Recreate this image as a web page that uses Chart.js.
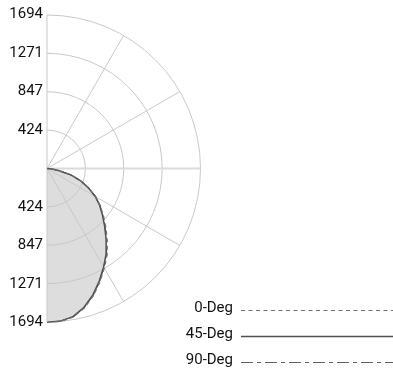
<!DOCTYPE html>
<html>
<head>
<meta charset="utf-8">
<script src="https://cdn.jsdelivr.net/npm/chart.js@4.4.1/dist/chart.umd.min.js"></script>
<style>
  html, body { margin: 0; padding: 0; background: #fff; font-family: Roboto, sans-serif; }
  #wrap { position: relative; width: 393px; height: 369px; }
</style>
</head>
<body>
<div id="wrap"><canvas id="c"></canvas></div>
<script>
// Angles measured from nadir (straight down), degrees
const angles = [0, 5, 10, 15, 20, 25, 30, 35, 40, 45, 50, 55, 60, 65, 70, 75, 80, 85, 90];
// Candela values per plane
const deg0  = [1694, 1688, 1660, 1590, 1492, 1380, 1265, 1158, 1035, 920, 815, 720, 622, 510, 398, 278, 132, 56, 0];
const deg45 = [1694, 1685, 1655, 1580, 1480, 1365, 1250, 1140, 1015, 900, 800, 710, 615, 505, 395, 272, 128, 52, 0];
const deg90 = [1694, 1686, 1658, 1585, 1486, 1372, 1256, 1146, 1022, 906, 805, 714, 618, 507, 396, 275, 130, 54, 0];
const seriesNames = ['0-Deg', '45-Deg', '90-Deg'];
const ringValues = [424, 847, 1271, 1694];
const tickValues = [-1694, -1271, -847, -424, 424, 847, 1271, 1694];
const tickLabels = ['1694', '1271', '847', '424', '424', '847', '1271', '1694'];
const spokeAngles = [0, 30, 60, 90, 120, 150, 180];
const maxValue = 1694;
const filledSeries = 1;

function toXY(vals) {
  return vals.map((v, i) => {
    const t = angles[i] * Math.PI / 180;
    return { x: v * Math.sin(t), y: -v * Math.cos(t) };
  });
}

const FONT = 'Roboto';

const gridPlugin = {
  id: 'polarGrid',
  beforeDatasetsDraw(chart) {
    const xs = chart.scales.x, ys = chart.scales.y, ctx = chart.ctx;
    const cx = xs.getPixelForValue(0), cy = ys.getPixelForValue(0);
    ctx.save();
    const pts = chart.getDatasetMeta(filledSeries).data;
    ctx.beginPath();
    pts.forEach((p, i) => { if (i === 0) ctx.moveTo(p.x, p.y); else ctx.lineTo(p.x, p.y); });
    ctx.closePath();
    ctx.fillStyle = '#dddddd';
    ctx.fill();
    ctx.strokeStyle = '#c9c9c9';
    ctx.lineWidth = 1;
    ringValues.forEach(r => {
      const rp = xs.getPixelForValue(r) - cx;
      ctx.beginPath();
      ctx.arc(cx, cy, rp, -Math.PI / 2, Math.PI / 2);
      ctx.stroke();
    });
    spokeAngles.forEach(a => {
      const t = a * Math.PI / 180;
      const ex = xs.getPixelForValue(maxValue * Math.sin(t));
      const ey = ys.getPixelForValue(-maxValue * Math.cos(t));
      ctx.beginPath();
      if (a === 90) { ctx.strokeStyle = '#dadada'; ctx.lineWidth = 2; }
      else { ctx.strokeStyle = '#c9c9c9'; ctx.lineWidth = 1; }
      ctx.moveTo(cx, cy);
      ctx.lineTo(ex, ey);
      ctx.stroke();
    });
    ctx.restore();
  }
};

const legendPlugin = {
  id: 'lineLegend',
  afterDraw(chart) {
    const ctx = chart.ctx;
    const rows = [310, 336, 362];
    const textRight = 233;
    const lineStart = 241, lineEnd = 393;
    ctx.save();
    chart.data.datasets.forEach((ds, i) => {
      const y = rows[i];
      ctx.font = '15px ' + FONT;
      ctx.fillStyle = '#111';
      ctx.textAlign = 'right';
      ctx.textBaseline = 'middle';
      ctx.fillText(seriesNames[i], textRight, y - 1.5);
      ctx.beginPath();
      ctx.strokeStyle = ds.borderColor;
      ctx.lineWidth = ds.borderWidth;
      ctx.setLineDash(ds.borderDash || []);
      ctx.moveTo(lineStart, y + 0.5);
      ctx.lineTo(lineEnd, y + 0.5);
      ctx.stroke();
    });
    ctx.restore();
  }
};

function draw() {
  new Chart(document.getElementById('c'), {
    type: 'scatter',
    data: {
      datasets: [
        { label: seriesNames[0], data: toXY(deg0), showLine: true, pointRadius: 0,
          borderColor: '#707070', borderWidth: 1.2, borderDash: [4, 3.5], fill: false, tension: 0 },
        { label: seriesNames[1], data: toXY(deg45), showLine: true, pointRadius: 0,
          borderColor: '#505050', borderWidth: 1.5, fill: false, tension: 0 },
        { label: seriesNames[2], data: toXY(deg90), showLine: true, pointRadius: 0,
          borderColor: '#606060', borderWidth: 1.2, borderDash: [12, 4, 4, 4], fill: false, tension: 0 }
      ]
    },
    options: {
      responsive: true,
      maintainAspectRatio: false,
      animation: false,
      layout: { padding: { top: 14.5, bottom: 46.5, left: 0, right: 192.5 } },
      plugins: {
        legend: { display: false },
        tooltip: { enabled: false }
      },
      scales: {
        x: { type: 'linear', min: 0, max: maxValue, display: false },
        y: {
          type: 'linear', min: -maxValue, max: maxValue,
          grid: { display: false, drawTicks: false },
          border: { display: false },
          afterBuildTicks(scale) { scale.ticks = tickValues.map(v => ({ value: v })); },
          afterFit(scale) { scale.width = 47; },
          ticks: {
            padding: 4,
            color: '#111',
            font: { family: FONT, size: 15 },
            callback(value) { const i = tickValues.indexOf(value); return i >= 0 ? tickLabels[i] : ''; }
          }
        }
      }
    },
    plugins: [gridPlugin, legendPlugin]
  });
}

if (document.fonts && document.fonts.load) {
  document.fonts.load('15px Roboto').then(draw, draw);
} else {
  draw();
}
</script>
</body>
</html>
